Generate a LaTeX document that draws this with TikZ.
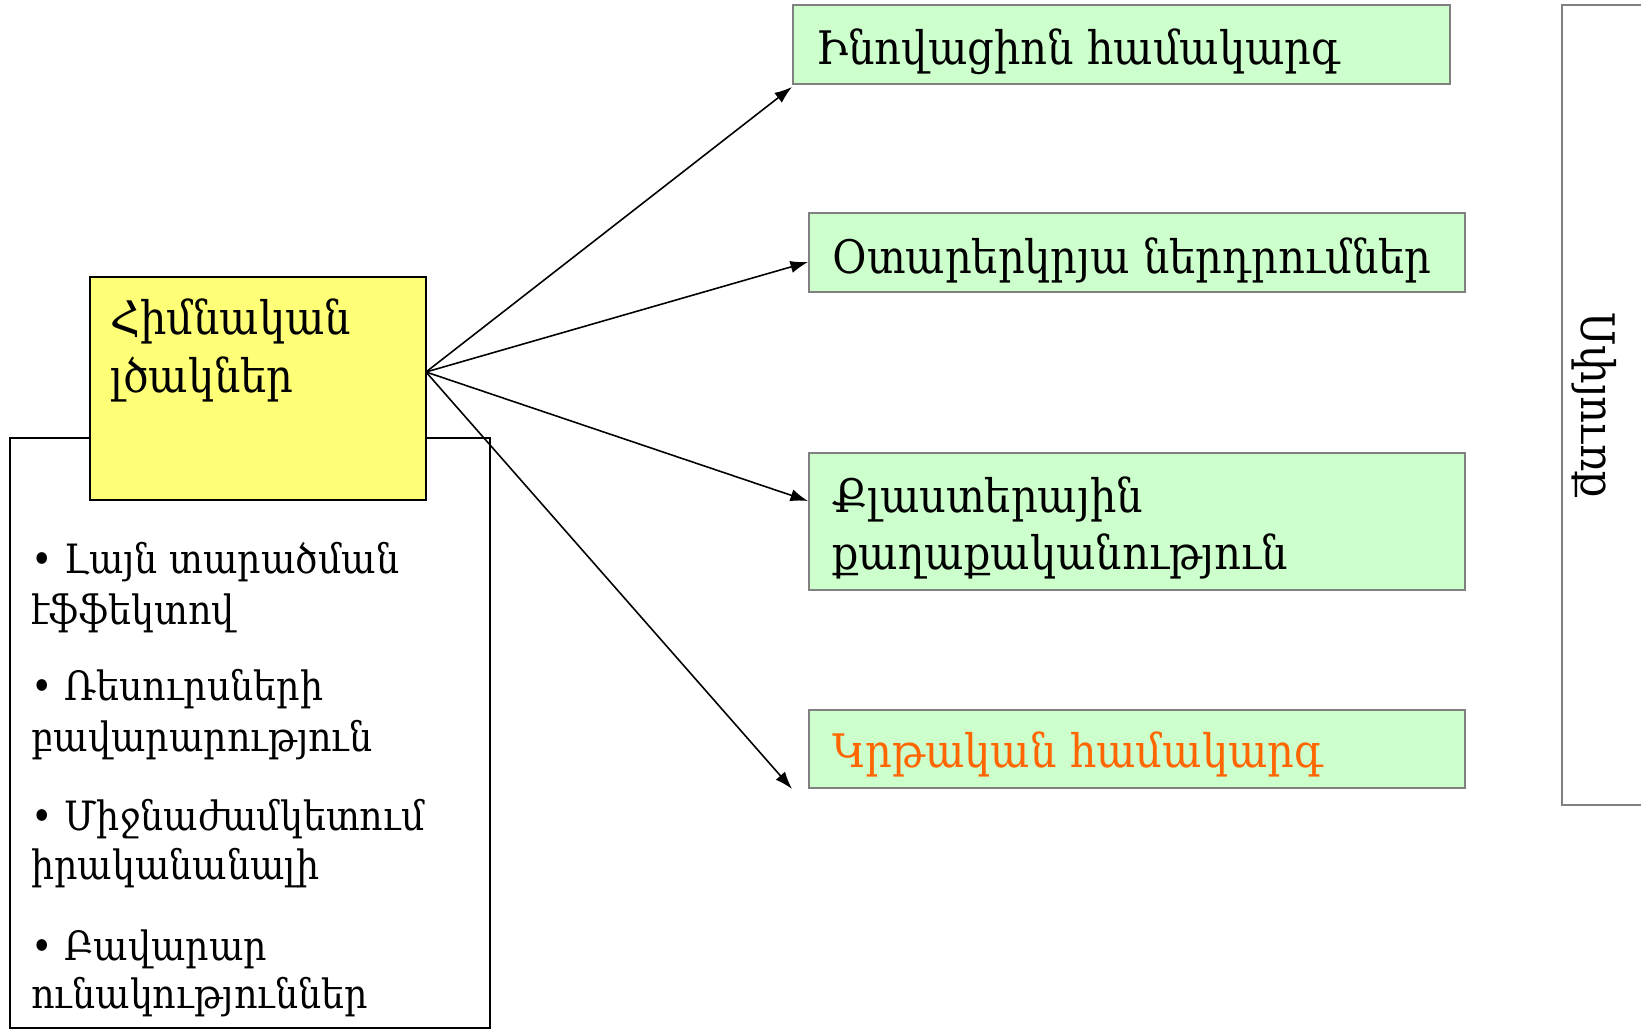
\documentclass[tikz,border=0pt]{standalone}
\usepackage{fontspec}
\setmainfont{DejaVu Serif}
\newfontfamily\condf{DejaVu Serif Condensed}
\usetikzlibrary{arrows.meta,fit}
\definecolor{greenfill}{HTML}{CCFFCC}
\definecolor{greenline}{HTML}{808080}
\definecolor{yellowfill}{HTML}{FFFF77}
\definecolor{orangetext}{HTML}{FF6600}
\begin{document}
\begin{tikzpicture}[x=0.02cm,y=-0.02cm,
  greenbox/.style={draw=greenline,fill=greenfill,line width=1.1pt,inner sep=0pt},
  yellowbox/.style={draw=black,fill=yellowfill,line width=1.1pt,inner sep=0pt},
  whitebox/.style={draw=black,fill=white,line width=1.1pt,inner sep=0pt},
  sidebox/.style={draw=greenline,fill=white,line width=1.1pt,inner sep=0pt},
  boxtext/.style={anchor=base west,inner sep=0pt,font=\condf\fontsize{26.3}{32}\selectfont},
  bigtext/.style={anchor=base west,inner sep=0pt,font=\condf\fontsize{26.3}{32}\selectfont},
  listtext/.style={anchor=base west,inner sep=0pt,font=\condf\fontsize{23}{28}\selectfont},
  arr/.style={line width=0.9pt,-{Latex[length=10pt,width=7pt]}}]
\useasboundingbox (0,0) rectangle (1641,1030);
% boxes
\node[whitebox,fit={(10,438) (490,1028)}] (list) {};
\node[yellowbox,fit={(90,277) (426,500)}] (main) {};
\node[greenbox,fit={(793,5) (1450,84)}] (g1) {};
\node[greenbox,fit={(809,213) (1465,292)}] (g2) {};
\node[greenbox,fit={(809,453) (1465,590)}] (g3) {};
\node[greenbox,fit={(809,710) (1465,788)}] (g4) {};
\node[sidebox,fit={(1562,5) (1645,805)}] (side) {};
% texts
\node[bigtext] (m1) at (110,335) {Հիմնական};
\node[bigtext] (m2) at (110,393) {լծակներ};
\node[boxtext] (t1) at (816,65) {Ինովացիոն համակարգ};
\node[boxtext] (t2) at (832,274) {Օտարերկրյա ներդրումներ};
\node[boxtext] (t3a) at (832,513) {Քլաստերային};
\node[boxtext] (t3b) at (832,570) {քաղաքականություն};
\node[boxtext,text=orangetext] (t4) at (832,767) {Կրթական համակարգ};
\node[listtext] (l1a) at (31,574) {• Լայն տարածման};
\node[listtext] (l1b) at (31,624) {էֆֆեկտով};
\node[listtext] (l2a) at (31,701) {• Ռեսուրսների};
\node[listtext] (l2b) at (31,751) {բավարարություն};
\node[listtext] (l3a) at (31,830) {• Միջնաժամկետում};
\node[listtext] (l3b) at (31,879) {իրականանալի};
\node[listtext] (l4a) at (31,960) {• Բավարար};
\node[listtext] (l4b) at (31,1008) {ունակություններ};
\node[rotate=-90,inner sep=0pt,font=\condf\fontsize{26.3}{32}\selectfont] (sp) at (1594,405) {Սփյուռք};
% connectors
\coordinate (src) at (426,372);
\draw[arr] (src) -- ([yshift=-0.04cm]g1.south west);
\draw[arr] (src) -- ([yshift=-0.19cm]g2.west);
\draw[arr] (src) -- ([yshift=0.41cm]g3.west);
\draw[arr] (src) -- ([xshift=-0.32cm]g4.south west);
\end{tikzpicture}
\end{document}
